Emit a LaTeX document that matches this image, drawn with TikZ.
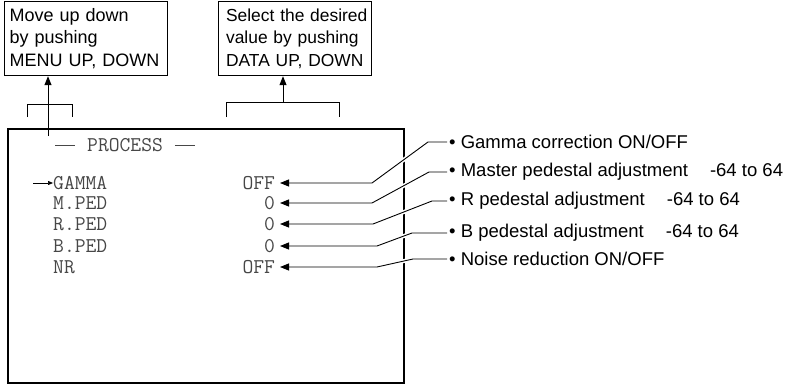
\documentclass[tikz,border=0pt]{standalone}
\usepackage{fontspec}
\setmainfont{Liberation Sans}
\usetikzlibrary{arrows.meta}
\tikzset{
    hintbox/.style={draw,line width=1.2pt,anchor=north west,minimum height=74pt,
        align=left,font=\fontsize{18}{22.5}\selectfont},
    scrtext/.style={inner sep=0pt,text=black!72,font=\ttfamily\fontsize{21}{22}\selectfont},
    scrval/.style={scrtext,anchor=east,outer xsep=5pt},
    note/.style={anchor=west,inner sep=2pt,font=\fontsize{18.5}{20}\selectfont},
    leader/.style={line width=0.9pt,-{Triangle[length=9pt,width=7pt]},
        preaction={-,draw=white,line width=4pt}},
    uparrow/.style={line width=1pt,-{Triangle[length=9pt,width=7pt]}},
}

\begin{document}
\begin{tikzpicture}[x=1pt,y=-1pt]
\useasboundingbox (0,0) rectangle (786,385);
% hint boxes on top
\node[hintbox,text width=153pt,inner xsep=5pt] (menuhint) at (4,1)
    {\mbox{Move up down}\\\mbox{by pushing}\\\mbox{MENU UP, DOWN}};
\node[hintbox,text width=138pt,inner xsep=7.5pt,font=\fontsize{17.4}{22.5}\selectfont] (datahint) at (218,1)
    {\mbox{Select the desired}\\\mbox{value by pushing}\\\mbox{DATA UP, DOWN}};
% brackets
\draw[line width=1pt] (27,117) -- (27,105) -- (72,105) -- (72,117);
\draw[line width=1pt] (226,117) -- (226,103) -- (339,103) -- (339,117);
\coordinate (menucur) at (48,136);
\coordinate (databr) at (283,103);
\draw[uparrow] (menucur) -- (menucur |- menuhint.south);
\draw[uparrow] (databr) -- (databr |- datahint.south);
% the screen
\draw[line width=2pt] (8,129) rectangle (404,383);
\node[scrtext,anchor=west] (title) at (55,145)
    {\rule[0.3em]{20pt}{0.6pt}\hspace{12pt}PROCESS\hspace{12pt}\rule[0.3em]{20pt}{0.6pt}};
\node[scrtext,anchor=west] (gamma) at (53,183) {GAMMA};
\node[scrtext,anchor=west] (mped) at (53,203) {M.PED};
\node[scrtext,anchor=west] (rped) at (53,224) {R.PED};
\node[scrtext,anchor=west] (bped) at (53,246) {B.PED};
\node[scrtext,anchor=west] (nr) at (53,267) {NR};
\coordinate (cursor) at (33,183);
\draw[line width=0.7pt,-{Triangle[length=5pt,width=4pt]}] (cursor) -- (gamma.west);
\node[scrval] (vgamma) at (280,183) {OFF};
\node[scrval] (vmped) at (280,203) {0};
\node[scrval] (vrped) at (280,224) {0};
\node[scrval] (vbped) at (280,246) {0};
\node[scrval] (vnr) at (280,267) {OFF};
% notes on the right
\node[note] (ngamma) at (447,142) {• Gamma correction ON/OFF};
\node[note] (nmped) at (447,172) {• Master pedestal adjustment\hspace{22pt}-64 to 64};
\node[note] (nrped) at (447,201) {• R pedestal adjustment\hspace{22pt}-64 to 64};
\node[note] (nbped) at (447,233) {• B pedestal adjustment\hspace{22pt}-64 to 64};
\node[note] (nnr) at (447,259) {• Noise reduction ON/OFF};
\draw[leader] (ngamma.west) -- (428,142) -- (372,183) -- (vgamma.east);
\draw[leader] (nmped.west) -- (429,172) -- (372,203) -- (vmped.east);
\draw[leader] (nrped.west) -- (432,201) -- (373,224) -- (vrped.east);
\draw[leader] (nbped.west) -- (412,233) -- (377,246) -- (vbped.east);
\draw[leader] (nnr.west) -- (413,259) -- (377,267) -- (vnr.east);
\end{tikzpicture}
\end{document}
